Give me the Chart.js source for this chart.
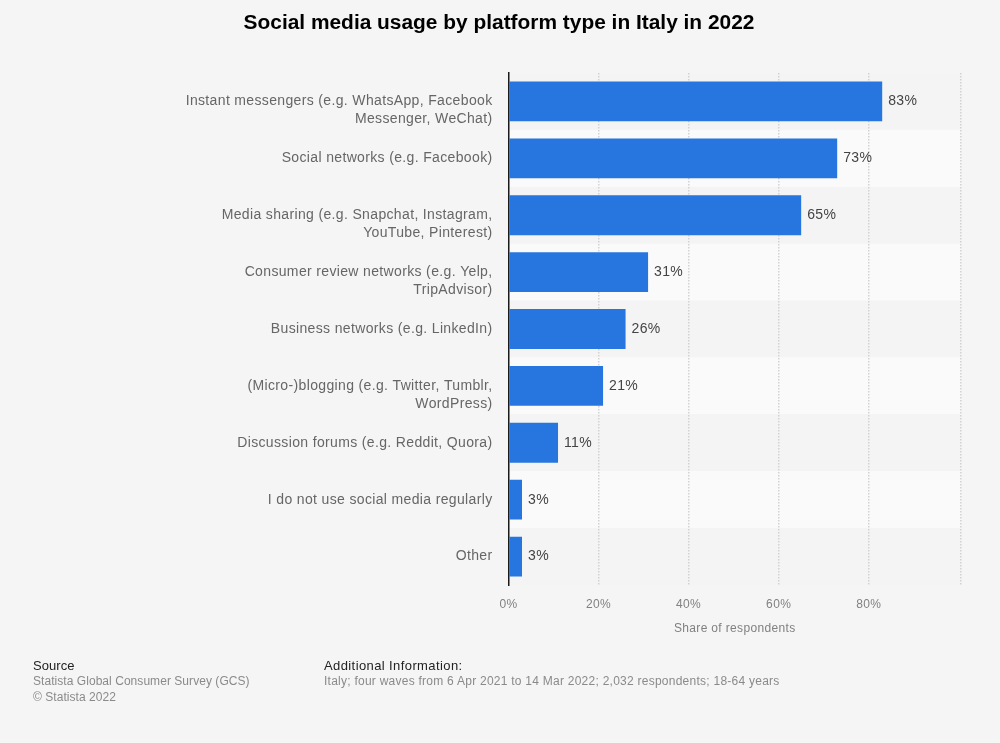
<!DOCTYPE html>
<html>
<head>
<meta charset="utf-8">
<title>Social media usage by platform type in Italy in 2022</title>
<script src="https://cdn.jsdelivr.net/npm/chart.js@4"></script>
<style>
  html, body { margin: 0; padding: 0; background: #f5f5f5; font-family: "Liberation Sans", Arial, sans-serif; }
  #page { position: relative; width: 1000px; height: 743px; overflow: hidden; }
  #chart { position: absolute; left: 0; top: 0; }
  .txt { position: absolute; white-space: nowrap; }
  #title { left: 0; width: 998px; top: 10px; text-align: center; font-size: 20.9px; font-weight: bold; color: #000; line-height: 24px; }
  .head { font-size: 13px; color: #222; line-height: 16px; }
  .note { font-size: 12px; color: #8a8a8a; line-height: 16px; }
</style>
</head>
<body>
<div id="page">
  <canvas id="chart" width="1000" height="743"></canvas>
  <div class="txt" id="title">Social media usage by platform type in Italy in 2022</div>
  <div class="txt head" style="left:33px;top:658px;letter-spacing:0.05px">Source</div>
  <div class="txt note" style="left:33px;top:673px;letter-spacing:0.05px">Statista Global Consumer Survey (GCS)</div>
  <div class="txt note" style="left:33px;top:689px;letter-spacing:0.05px">© Statista 2022</div>
  <div class="txt head" style="left:324px;top:658px;letter-spacing:0.4px">Additional Information:</div>
  <div class="txt note" style="left:324px;top:673px;letter-spacing:0.25px">Italy; four waves from 6 Apr 2021 to 14 Mar 2022; 2,032 respondents; 18-64 years</div>
</div>
<script>
const categories = [
  ["Instant messengers (e.g. WhatsApp, Facebook", "Messenger, WeChat)"],
  "Social networks (e.g. Facebook)",
  ["Media sharing (e.g. Snapchat, Instagram,", "YouTube, Pinterest)"],
  ["Consumer review networks (e.g. Yelp,", "TripAdvisor)"],
  "Business networks (e.g. LinkedIn)",
  ["(Micro-)blogging (e.g. Twitter, Tumblr,", "WordPress)"],
  "Discussion forums (e.g. Reddit, Quora)",
  "I do not use social media regularly",
  "Other"
];
const shares = [83, 73, 65, 31, 26, 21, 11, 3, 3];
const axisTicks = [0, 20, 40, 60, 80, 100.5]; // last gridline has no label

// first line of a wrapped label sits level with the bar, so pad the top with a blank line
const axisLabels = categories.map(c => Array.isArray(c) ? ["", ...c] : c);

// alternating row backgrounds behind the bars
const stripes = {
  id: "stripes",
  beforeDraw(chart) {
    const { ctx, chartArea, scales } = chart;
    const rowHeight = scales.y.height / categories.length;
    ctx.letterSpacing = "0.35px"; // the reference text runs a bit wider
    ctx.save();
    categories.forEach((c, i) => {
      ctx.fillStyle = i % 2 ? "#fafafa" : "#f4f4f4";
      ctx.fillRect(chartArea.left, scales.y.getPixelForValue(i) - rowHeight / 2, chartArea.width, rowHeight);
    });
    ctx.restore();
  }
};

// percent labels at the end of the bars
const barLabels = {
  id: "barLabels",
  afterDatasetsDraw(chart) {
    const { ctx } = chart;
    ctx.save();
    ctx.font = '14px "Liberation Sans"';
    ctx.fillStyle = "#444";
    ctx.textAlign = "left";
    ctx.textBaseline = "middle";
    chart.getDatasetMeta(0).data.forEach((bar, i) => {
      ctx.fillText(shares[i] + "%", bar.x + 6, bar.y);
    });
    ctx.restore();
  }
};

new Chart(document.getElementById("chart").getContext("2d"), {
  type: "bar",
  data: {
    labels: axisLabels,
    datasets: [{
      data: shares,
      backgroundColor: "#2775de",
      categoryPercentage: 1,
      barPercentage: 0.7
    }]
  },
  options: {
    indexAxis: "y",
    responsive: false,
    animation: false,
    layout: { padding: { top: 73, right: 39, bottom: 107, left: 0 } },
    plugins: { legend: { display: false }, tooltip: { enabled: false }, title: { display: false } },
    scales: {
      x: {
        min: 0,
        max: 100.5,
        afterFit: s => { s.height = 51; },
        afterBuildTicks: s => { s.ticks = axisTicks.map(value => ({ value })); },
        grid: {
          drawTicks: false,
          color: ctx => ctx.tick.value === 0 ? "transparent" : "#d2d2d2",
          lineWidth: 1.5
        },
        border: { display: false, dash: [1.5, 1.5] },
        ticks: {
          padding: 12,
          maxRotation: 0,
          autoSkip: false,
          color: "#808080",
          font: { family: "Liberation Sans", size: 12 },
          callback: v => v > 80 ? "" : v + "%"
        },
        title: {
          display: true,
          text: "Share of respondents",
          color: "#808080",
          font: { family: "Liberation Sans", size: 12 },
          padding: 0
        }
      },
      y: {
        afterFit: s => { s.width = 508.5; },
        grid: { display: false, drawTicks: false },
        border: { display: true, color: "#1a1a1a", width: 1.5 },
        ticks: {
          padding: 16,
          color: "#666",
          font: { family: "Liberation Sans", size: 14, lineHeight: 1.28 }
        }
      }
    }
  },
  plugins: [stripes, barLabels]
});
</script>
</body>
</html>
